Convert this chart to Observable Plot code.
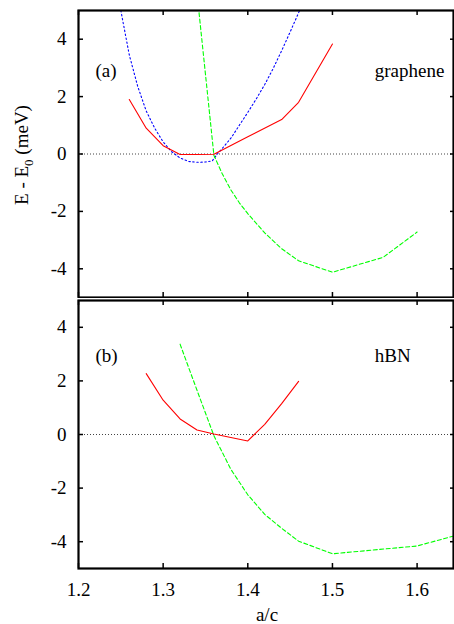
<!DOCTYPE html>
<html><head><meta charset="utf-8">
<script src="https://cdn.jsdelivr.net/npm/d3@7"></script>
<script src="https://cdn.jsdelivr.net/npm/@observablehq/plot@0.6"></script>
<style>
body{margin:0;background:#fff}
#chart svg{display:block}
</style>
</head><body><div id="chart"></div>
<script>
// ---- data ----
const xTicks = [1.2, 1.3, 1.4, 1.5, 1.6];
const yTicks = [-4, -2, 0, 2, 4];

const grapheneRedX = [1.26, 1.28, 1.30, 1.32, 1.34, 1.36, 1.40, 1.44, 1.46, 1.50];
const grapheneRedY = [1.9, 0.9, 0.29, -0.02, -0.02, -0.01, 0.6, 1.2, 1.8, 3.83];

const grapheneBlueX = [1.25, 1.26, 1.27, 1.28, 1.29, 1.30, 1.31, 1.32, 1.33, 1.34, 1.35, 1.358, 1.364, 1.37, 1.38, 1.39, 1.40, 1.41, 1.42, 1.43, 1.44, 1.45, 1.46, 1.47];
const grapheneBlueY = [5.0, 3.45, 2.35, 1.5, 0.9, 0.42, 0.08, -0.14, -0.26, -0.29, -0.28, -0.24, 0.0, 0.2, 0.55, 1.0, 1.45, 1.92, 2.42, 2.98, 3.6, 4.25, 4.92, 5.6];

const grapheneGreenX = [1.34, 1.36, 1.37, 1.38, 1.39, 1.40, 1.42, 1.44, 1.46, 1.50, 1.56, 1.60];
const grapheneGreenY = [5.6, -0.05, -0.7, -1.25, -1.7, -2.08, -2.75, -3.3, -3.72, -4.12, -3.6, -2.72];

const hbnRedX = [1.28, 1.30, 1.32, 1.34, 1.36, 1.38, 1.40, 1.42, 1.44, 1.46];
const hbnRedY = [2.27, 1.28, 0.58, 0.17, 0.02, -0.11, -0.24, 0.38, 1.15, 1.98];

const hbnGreenX = [1.32, 1.34, 1.36, 1.38, 1.40, 1.42, 1.44, 1.46, 1.50, 1.60, 1.65];
const hbnGreenY = [3.37, 1.65, -0.05, -1.3, -2.25, -2.98, -3.5, -3.98, -4.45, -4.16, -3.73];

const topLabels = [{x: 1.22, y: 2.9, text: "(a)"}, {x: 1.55, y: 2.9, text: "graphene"}];
const bottomLabels = [{x: 1.22, y: 2.94, text: "(b)"}, {x: 1.55, y: 2.94, text: "hBN"}];

const xLabel = "a/c";

// ---- helpers ----
const zip = (xs, ys) => xs.map((x, i) => ({x, y: ys[i]}));
const FONT = "'Liberation Serif', 'Times New Roman', Times, serif";
const W = 454, ML = 78, MR = 1;
const xDomain = [1.2, 1.643];

function panel({height, marginTop, marginBottom, series, labels, showX}) {
  const plotH = height - marginTop - marginBottom;
  const plotW = W - ML - MR;
  const ty = 5 * 10 / plotH;
  const tx = 5 * (xDomain[1] - xDomain[0]) / plotW;
  const txr = 3 * (xDomain[1] - xDomain[0]) / plotW;
  const marks = [
    Plot.ruleY([0], {stroke: "#444", strokeWidth: 1, strokeDasharray: "1,2"}),
    ...series.map(s => Plot.line(s.data, {x: "x", y: "y", stroke: s.color, strokeWidth: 1.1, strokeDasharray: s.dash, clip: true})),
    Plot.ruleX(xTicks, {x: d => d, y1: 5, y2: 5 - ty, stroke: "black", strokeWidth: 1.5}),
    Plot.ruleX(xTicks, {x: d => d, y1: -5, y2: -5 + ty, stroke: "black", strokeWidth: 1.5}),
    Plot.ruleY(yTicks, {y: d => d, x1: xDomain[0], x2: xDomain[0] + tx, stroke: "black", strokeWidth: 1.5}),
    Plot.ruleY(yTicks, {y: d => d, x1: xDomain[1], x2: xDomain[1] - txr, stroke: "black", strokeWidth: 1.5}),
    Plot.frame({stroke: "black", strokeWidth: 2.2}),
    Plot.axisY({ticks: yTicks, tickSize: 0, tickPadding: 12, tickFormat: d => String(d), fontSize: 19, label: null}),
    Plot.text(labels, {x: "x", y: "y", text: "text", textAnchor: "start", fontSize: 19, fill: "black"})
  ];
  if (showX) {
    marks.push(Plot.axisX({ticks: xTicks, tickSize: 0, tickPadding: 14, tickFormat: d => d.toFixed(1), fontSize: 19, label: null}));
  }
  return Plot.plot({
    width: W, height, marginTop, marginBottom, marginLeft: ML, marginRight: MR,
    style: {fontFamily: FONT, fontSize: "19px", background: "white", color: "black"},
    x: {domain: xDomain, label: null, axis: null},
    y: {domain: [-5, 5], label: null, axis: null},
    marks
  });
}

const topPanel = panel({
  height: 298, marginTop: 10, marginBottom: 1, showX: false, labels: topLabels,
  series: [
    {data: zip(grapheneBlueX, grapheneBlueY), color: "#0000ff", dash: "1.5,2.5"},
    {data: zip(grapheneGreenX, grapheneGreenY), color: "#00ff00", dash: "4,2.5"},
    {data: zip(grapheneRedX, grapheneRedY), color: "#ff0000", dash: null}
  ]
});
const bottomPanel = panel({
  height: 326, marginTop: 2, marginBottom: 56, showX: true, labels: bottomLabels,
  series: [
    {data: zip(hbnGreenX, hbnGreenY), color: "#00ff00", dash: "4,2.5"},
    {data: zip(hbnRedX, hbnRedY), color: "#ff0000", dash: null}
  ]
});

const yl = d3.select(topPanel).append("text")
  .attr("transform", "translate(28,155) rotate(-90)")
  .attr("text-anchor", "middle")
  .attr("font-family", FONT).attr("font-size", 19).attr("fill", "black");
yl.append("tspan").text("E - E");
yl.append("tspan").attr("font-size", 13).attr("dy", 5).text("0");
yl.append("tspan").attr("dy", -5).text(" (meV)");

d3.select(bottomPanel).append("text")
  .attr("x", 267).attr("y", 323)
  .attr("text-anchor", "middle")
  .attr("font-family", FONT).attr("font-size", 19).attr("fill", "black")
  .text(xLabel);

document.getElementById("chart").append(topPanel, bottomPanel);
</script></body></html>
